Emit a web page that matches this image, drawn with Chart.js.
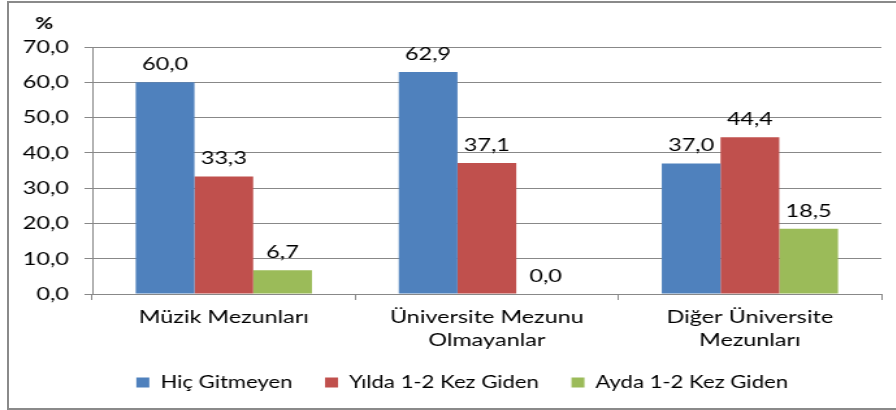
<!DOCTYPE html>
<html>
<head>
<meta charset="utf-8">
<script src="https://cdn.jsdelivr.net/npm/chart.js@4"></script>
<style>
  html, body { margin: 0; padding: 0; background: #fff; overflow: hidden; }
  #frame { position: absolute; left: 7px; top: 1px; width: 900px; height: 405px; border: 2px solid #8a8a8a; }
  #chart { position: absolute; left: 0; top: 0; transform: scaleX(1.3); transform-origin: 0 0; }
</style>
</head>
<body>
<div id="frame"></div>
<canvas id="chart" width="689" height="410"></canvas>
<script>
// Data
const categories = [['Müzik Mezunları'], ['Üniversite Mezunu', 'Olmayanlar'], ['Diğer Üniversite', 'Mezunları']];
const seriesNames = ['Hiç Gitmeyen', 'Yılda 1-2 Kez Giden', 'Ayda 1-2 Kez Giden'];
const hicGitmeyen = [60.0, 62.9, 37.0];
const yildaGiden = [33.3, 37.1, 44.4];
const aydaGiden = [6.7, 0.0, 18.5];
const yTicks = [0, 10, 20, 30, 40, 50, 60, 70];
const colors = ['#4F81BD', '#C0504D', '#9BBB59'];

const fmt = v => v.toFixed(1).replace('.', ',');

Chart.defaults.font.family = 'Lato';
Chart.defaults.font.size = 18;
Chart.defaults.color = '#000';

// value labels above the bars + "%" unit label
const barLabels = {
  id: 'barLabels',
  afterLayout(chart) {
    // legend in the original sits a little right of the page centre
    chart.legend.left += 33;
  },
  afterDatasetsDraw(chart) {
    const ctx = chart.ctx;
    ctx.save();
    ctx.font = '18px Lato';
    ctx.fillStyle = '#000';
    ctx.textAlign = 'center';
    ctx.textBaseline = 'alphabetic';
    chart.data.datasets.forEach((ds, i) => {
      chart.getDatasetMeta(i).data.forEach((bar, j) => {
        ctx.fillText(fmt(ds.data[j]), bar.x, bar.y - 12);
      });
    });
    ctx.font = 'bold 17px Lato';
    ctx.textBaseline = 'middle';
    ctx.fillText('%', 34, 24);
    ctx.restore();
  }
};

const ctx = document.getElementById('chart').getContext('2d');
new Chart(ctx, {
  type: 'bar',
  data: {
    labels: categories,
    datasets: [
      { label: seriesNames[0], data: hicGitmeyen, backgroundColor: colors[0] },
      { label: seriesNames[1], data: yildaGiden, backgroundColor: colors[1] },
      { label: seriesNames[2], data: aydaGiden, backgroundColor: colors[2] }
    ]
  },
  options: {
    responsive: false,
    animation: false,
    categoryPercentage: 0.67,
    barPercentage: 1,
    layout: { padding: { top: 47, right: 11, bottom: 9, left: 0 } },
    plugins: {
      legend: {
        position: 'bottom',
        labels: { boxWidth: 10, boxHeight: 10, padding: 25, font: { size: 17 } }
      },
      tooltip: { enabled: false }
    },
    scales: {
      x: {
        grid: { drawOnChartArea: false, drawTicks: true, tickLength: 6, color: '#888' },
        border: { color: '#888' },
        ticks: { padding: 6, font: { lineHeight: '23px' } },
        afterFit(scale) { scale.height = 55; }
      },
      y: {
        min: 0,
        max: 70,
        afterBuildTicks(scale) { scale.ticks = yTicks.map(v => ({ value: v })); },
        ticks: { padding: 12, callback: v => fmt(v) },
        grid: { color: '#888', tickLength: 6 },
        border: { color: '#888' },
        afterFit(scale) { scale.width = 71; }
      }
    }
  },
  plugins: [barLabels]
});
</script>
</body>
</html>
